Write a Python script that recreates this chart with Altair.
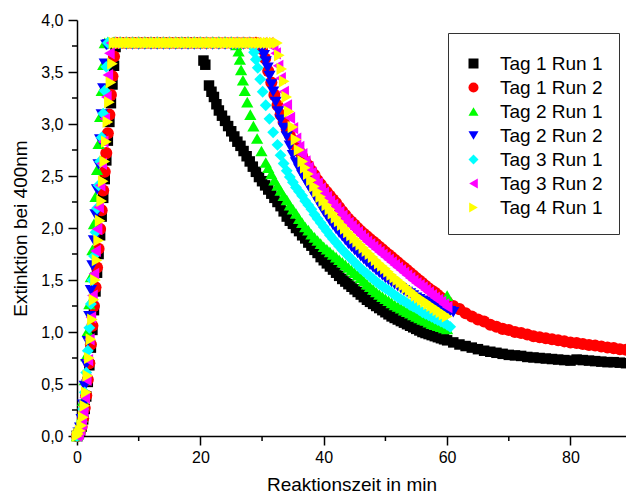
import altair as alt
import pandas as pd

series_names = ["Tag 1 Run 1", "Tag 1 Run 2", "Tag 2 Run 1", "Tag 2 Run 2",
                "Tag 3 Run 1", "Tag 3 Run 2", "Tag 4 Run 1"]
series_colors = ["#000000", "#ff0000", "#00ff00", "#0000ff", "#00ffff", "#ff00ff", "#ffff00"]
series_shapes = ["square", "circle", "triangle-up", "triangle-down", "diamond",
                 "triangle-left", "triangle-right"]
marker_sizes = [110, 145, 150, 150, 140, 150, 150]

x_ticks = [0, 20, 40, 60, 80]
x_minor = [10, 30, 50, 70]
y_ticks = [0, 0.5, 1.0, 1.5, 2.0, 2.5, 3.0, 3.5, 4.0]
y_minor = [0.25, 0.75, 1.25, 1.75, 2.25, 2.75, 3.25, 3.75]

# common sampling times of the late decay (minutes)
t_40_60 = [40.0, 40.5, 41.0, 41.5, 42.0, 42.5, 43.0, 43.5, 44.0, 44.5, 45.0, 45.5, 46.0, 46.5,
           47.0, 47.5, 48.0, 48.5, 49.0, 49.5, 50.0, 50.5, 51.0, 51.5, 52.0, 52.5, 53.0, 53.5,
           54.0, 54.5, 55.0, 55.5, 56.0, 56.5, 57.0, 57.5, 58.0, 58.5, 59.0, 59.5, 60.0]
t_61_89 = [61, 62, 63, 64, 65, 66, 67, 68, 69, 70, 71, 72, 73, 74, 75, 76, 77, 78, 79, 80, 81,
           82, 83, 84, 85, 86, 87, 88, 89]

# ---- Tag 1 Run 1 (black squares)
t_t1r1 = [0, 0.25, 0.5, 0.75, 1, 1.25, 1.5, 1.75, 2, 2.25, 2.5, 2.75, 3, 3.25, 3.5, 3.75, 4, 4.25,
          4.5, 4.75, 5, 5.25, 5.5, 5.75, 6, 6.25, 6.5,
          7, 8, 9, 10, 11, 12, 13, 14, 15, 16, 17, 18, 19, 20,
          20.5, 20.8, 21.4, 21.8, 22.2, 22.6, 23.0, 23.5, 24.0, 24.5, 25.0, 25.5, 26.0, 26.5, 27.0,
          27.5, 28.0, 28.5, 29.0, 29.5, 30.0, 30.5, 31.0, 31.5, 32.0, 32.5, 33.0, 33.5, 34.0, 34.5,
          35.0, 35.5, 36.0, 36.5, 37.0, 37.5, 38.0, 38.5, 39.0, 39.5] + t_40_60 + t_61_89
e_t1r1 = [0, 0.02, 0.04, 0.09, 0.16, 0.26, 0.38, 0.52, 0.68, 0.85, 1.02, 1.21, 1.39, 1.57, 1.75, 1.93,
          2.11, 2.29, 2.47, 2.65, 2.84, 3.02, 3.20, 3.38, 3.56, 3.74, 3.78,
          3.78, 3.78, 3.78, 3.78, 3.78, 3.78, 3.78, 3.78, 3.78, 3.78, 3.78, 3.78, 3.78, 3.78,
          3.61, 3.57, 3.37, 3.31, 3.26, 3.19, 3.13, 3.08, 3.03, 2.98, 2.93, 2.88, 2.83, 2.79, 2.74,
          2.69, 2.64, 2.59, 2.54, 2.49, 2.45, 2.41, 2.37, 2.33, 2.29, 2.25, 2.21, 2.16, 2.11, 2.07,
          2.04, 2.00, 1.97, 1.93, 1.90, 1.86, 1.83, 1.79, 1.76, 1.72,
          1.69, 1.66, 1.63, 1.60, 1.57, 1.54, 1.51, 1.485, 1.46, 1.435, 1.41, 1.385, 1.36, 1.335,
          1.31, 1.29, 1.27, 1.25, 1.23, 1.21, 1.19, 1.17, 1.15, 1.135, 1.12, 1.105, 1.09, 1.075,
          1.06, 1.045, 1.03, 1.015, 1.00, 0.99, 0.98, 0.97, 0.96, 0.95, 0.94, 0.93, 0.92,
          0.90, 0.88, 0.865, 0.85, 0.835, 0.82, 0.81, 0.80, 0.79, 0.78, 0.775, 0.77, 0.76, 0.755,
          0.75, 0.745, 0.74, 0.735, 0.73, 0.725, 0.735, 0.73, 0.725, 0.72, 0.715, 0.71, 0.71,
          0.705, 0.70]

# ---- Tag 1 Run 2 (red circles)
t_t1r2 = [0, 0.25, 0.5, 0.75, 1, 1.25, 1.5, 1.75, 2, 2.25, 2.5, 2.75, 3, 3.25, 3.5, 3.75, 4, 4.25,
          4.5, 4.75, 5, 5.25, 5.5, 5.75, 6, 6.25,
          7, 8, 9, 10, 11, 12, 13, 14, 15, 16, 17, 18, 19, 20, 21, 22, 23, 24, 25, 26, 27, 28, 29,
          30.0, 30.5, 31.0, 31.5, 32.0, 32.5, 33.0, 33.5, 34.0, 34.5, 35.0, 35.5, 36.0, 36.5, 37.0,
          37.5, 38.0, 38.5, 39.0, 39.5] + t_40_60 + t_61_89
e_t1r2 = [0, 0.02, 0.05, 0.09, 0.17, 0.27, 0.39, 0.54, 0.70, 0.88, 1.06, 1.25, 1.43, 1.62, 1.80, 1.99,
          2.17, 2.36, 2.54, 2.72, 2.91, 3.09, 3.28, 3.46, 3.65, 3.78,
          3.78, 3.78, 3.78, 3.78, 3.78, 3.78, 3.78, 3.78, 3.78, 3.78, 3.78, 3.78, 3.78, 3.78, 3.78,
          3.78, 3.78, 3.78, 3.78, 3.78, 3.78, 3.78, 3.78,
          3.72, 3.63, 3.51, 3.40, 3.28, 3.18, 3.09, 3.02, 2.95, 2.89, 2.84, 2.79, 2.74, 2.69, 2.64,
          2.60, 2.55, 2.51, 2.46, 2.42,
          2.38, 2.345, 2.31, 2.275, 2.24, 2.20, 2.16, 2.125, 2.09, 2.06, 2.03, 2.00, 1.97, 1.945,
          1.92, 1.895, 1.87, 1.845, 1.82, 1.795, 1.77, 1.745, 1.72, 1.695, 1.67, 1.645, 1.62, 1.595,
          1.57, 1.545, 1.52, 1.495, 1.47, 1.445, 1.42, 1.40, 1.38, 1.355, 1.33, 1.31, 1.29,
          1.25, 1.22, 1.18, 1.15, 1.12, 1.10, 1.07, 1.05, 1.03, 1.02, 1.00, 0.99, 0.975, 0.96, 0.95,
          0.94, 0.93, 0.92, 0.91, 0.90, 0.895, 0.885, 0.875, 0.87, 0.86, 0.85, 0.845, 0.835, 0.83]

# ---- Tag 2 Run 1 (green up-triangles)
t_t2r1 = [0, 0.25, 0.5, 0.75, 1, 1.25, 1.5, 1.75, 2, 2.25, 2.5, 2.75, 3, 3.25, 3.5, 3.75, 4, 4.25, 4.5,
          5, 6, 7, 8, 9, 10, 11, 12, 13, 14, 15, 16, 17, 18, 19, 20, 21, 22, 23, 24, 25,
          25.8, 26.2, 26.4, 26.6, 26.9, 27.2, 27.6, 28.1, 28.6, 29.2, 29.9, 30.6,
          31.0, 31.5, 32.0, 32.5, 33.0, 33.5, 34.0, 34.5, 35.0, 35.5, 36.0, 36.5, 37.0, 37.5, 38.0,
          38.5, 39.0, 39.5] + t_40_60 + [60.0]
e_t2r1 = [0, 0.03, 0.085, 0.18, 0.34, 0.54, 0.77, 1.01, 1.27, 1.53, 1.79, 2.04, 2.30, 2.56, 2.81,
          3.07, 3.32, 3.57, 3.78,
          3.79, 3.79, 3.79, 3.79, 3.79, 3.79, 3.79, 3.79, 3.79, 3.79, 3.79, 3.79, 3.79, 3.79, 3.79,
          3.79, 3.79, 3.79, 3.79, 3.79, 3.79,
          3.76, 3.70, 3.62, 3.52, 3.42, 3.32, 3.21, 3.09, 2.98, 2.86, 2.74, 2.63,
          2.58, 2.52, 2.46, 2.41, 2.36, 2.31, 2.27, 2.22, 2.18, 2.14, 2.09, 2.05, 2.01, 1.98, 1.94,
          1.91, 1.88, 1.85,
          1.82, 1.795, 1.77, 1.745, 1.72, 1.695, 1.67, 1.645, 1.62, 1.595, 1.57, 1.545, 1.52, 1.49,
          1.46, 1.435, 1.41, 1.385, 1.36, 1.34, 1.32, 1.30, 1.28, 1.26, 1.245, 1.23, 1.21, 1.195,
          1.18, 1.165, 1.15, 1.135, 1.12, 1.11, 1.095, 1.08, 1.07, 1.06, 1.05, 1.04, 1.03,
          1.35]

# ---- Tag 2 Run 2 (blue down-triangles)
t_t2r2 = [0, 0.25, 0.5, 0.75, 1, 1.25, 1.5, 1.75, 2, 2.25, 2.5, 2.75, 3, 3.25, 3.5, 3.75, 4, 4.25,
          4.5, 4.75,
          5, 6, 7, 8, 9, 10, 11, 12, 13, 14, 15, 16, 17, 18, 19, 20, 21, 22, 23, 24, 25, 26, 27, 28, 29,
          30.0, 30.3, 30.6, 30.9, 31.2, 31.5, 31.8, 32.2, 32.6, 33.0, 33.5, 34.0, 34.5, 35.0, 35.5,
          36.0, 36.5, 37.0, 37.5, 38.0, 38.5, 39.0, 39.5] + t_40_60 + [60.5, 61.0]
e_t2r2 = [0, 0.03, 0.08, 0.16, 0.30, 0.48, 0.69, 0.91, 1.15, 1.40, 1.64, 1.88, 2.13, 2.37, 2.61, 2.85,
          3.09, 3.34, 3.58, 3.76,
          3.765, 3.765, 3.765, 3.765, 3.765, 3.765, 3.765, 3.765, 3.765, 3.765, 3.765, 3.765, 3.765,
          3.765, 3.765, 3.765, 3.765, 3.765, 3.765, 3.765, 3.765, 3.765, 3.765, 3.765, 3.765,
          3.72, 3.66, 3.60, 3.54, 3.46, 3.38, 3.31, 3.21, 3.12, 3.04, 2.96, 2.88, 2.79, 2.70, 2.63,
          2.57, 2.51, 2.46, 2.41, 2.36, 2.31, 2.26, 2.21,
          2.16, 2.115, 2.07, 2.03, 1.99, 1.955, 1.92, 1.885, 1.85, 1.82, 1.79, 1.76, 1.73, 1.70,
          1.67, 1.645, 1.62, 1.595, 1.57, 1.545, 1.52, 1.50, 1.48, 1.46, 1.44, 1.42, 1.40, 1.385,
          1.37, 1.35, 1.33, 1.315, 1.30, 1.29, 1.28, 1.265, 1.25, 1.24, 1.23, 1.22, 1.21,
          1.20, 1.19]

# ---- Tag 3 Run 1 (cyan diamonds)
t_t3r1 = [0, 0.25, 0.5, 0.75, 1, 1.25, 1.5, 1.75, 2, 2.25, 2.5, 2.75, 3, 3.25, 3.5, 3.75, 4, 4.25,
          4.5, 4.75, 5,
          6, 7, 8, 9, 10, 11, 12, 13, 14, 15, 16, 17, 18, 19, 20, 21, 22, 23, 24, 25, 26, 27, 28,
          28.5, 28.7, 29.0, 29.3, 29.7, 30.1, 30.6, 31.2, 31.8, 32.5, 33.0, 33.5, 34.0, 34.5, 35.0,
          35.5, 36.0, 36.5, 37.0, 37.5, 38.0, 38.5, 39.0, 39.5] + t_40_60 + [60.5]
e_t3r1 = [0, 0.02, 0.07, 0.14, 0.26, 0.42, 0.61, 0.82, 1.04, 1.27, 1.50, 1.73, 1.96, 2.19, 2.41, 2.64,
          2.87, 3.10, 3.32, 3.55, 3.78,
          3.78, 3.78, 3.78, 3.78, 3.78, 3.78, 3.78, 3.78, 3.78, 3.78, 3.78, 3.78, 3.78, 3.78, 3.78,
          3.78, 3.78, 3.78, 3.78, 3.78, 3.78, 3.78, 3.78,
          3.74, 3.69, 3.62, 3.54, 3.43, 3.31, 3.18, 3.05, 2.92, 2.80, 2.70, 2.62, 2.55, 2.49, 2.44,
          2.39, 2.35, 2.31, 2.26, 2.22, 2.18, 2.13, 2.09, 2.05,
          2.01, 1.97, 1.93, 1.895, 1.86, 1.825, 1.79, 1.76, 1.73, 1.70, 1.67, 1.64, 1.61, 1.585,
          1.56, 1.535, 1.51, 1.485, 1.46, 1.44, 1.42, 1.40, 1.38, 1.355, 1.335, 1.315, 1.30, 1.28,
          1.26, 1.245, 1.23, 1.21, 1.19, 1.175, 1.16, 1.145, 1.13, 1.115, 1.10, 1.085, 1.07,
          1.05]

# ---- Tag 3 Run 2 (magenta left-triangles)
t_t3r2 = [0, 0.25, 0.5, 0.75, 1, 1.25, 1.5, 1.75, 2, 2.25, 2.5, 2.75, 3, 3.25, 3.5, 3.75, 4, 4.25,
          4.5, 4.75, 5, 5.25, 5.5,
          6, 7, 8, 9, 10, 11, 12, 13, 14, 15, 16, 17, 18, 19, 20, 21, 22, 23, 24, 25, 26, 27, 28, 29,
          30, 31,
          31.8, 32.2, 32.6, 33.0, 33.5, 34.0, 34.5, 35.0, 35.5, 36.0, 36.5, 37.0, 37.5, 38.0, 38.5,
          39.0, 39.5] + t_40_60
e_t3r2 = [0, 0.02, 0.06, 0.12, 0.23, 0.37, 0.54, 0.73, 0.93, 1.14, 1.35, 1.56, 1.78, 1.99, 2.20, 2.41,
          2.62, 2.83, 3.05, 3.26, 3.47, 3.68, 3.78,
          3.78, 3.78, 3.78, 3.78, 3.78, 3.78, 3.78, 3.78, 3.78, 3.78, 3.78, 3.78, 3.78, 3.78, 3.78,
          3.78, 3.78, 3.78, 3.78, 3.78, 3.78, 3.78, 3.78, 3.78, 3.78, 3.78,
          3.74, 3.68, 3.56, 3.44, 3.31, 3.18, 3.06, 2.96, 2.86, 2.78, 2.71, 2.64, 2.58, 2.53, 2.48,
          2.43, 2.38,
          2.34, 2.30, 2.26, 2.225, 2.19, 2.155, 2.12, 2.085, 2.05, 2.02, 1.99, 1.96, 1.93, 1.90,
          1.87, 1.845, 1.82, 1.795, 1.77, 1.745, 1.72, 1.695, 1.67, 1.645, 1.62, 1.595, 1.57, 1.545,
          1.52, 1.495, 1.47, 1.45, 1.43, 1.405, 1.38, 1.355, 1.33, 1.31, 1.29, 1.265, 1.24]

# ---- Tag 4 Run 1 (yellow right-triangles)
t_t4r1 = [0, 0.25, 0.5, 0.75, 1, 1.25, 1.5, 1.75, 2, 2.25, 2.5, 2.75, 3, 3.25, 3.5, 3.75, 4, 4.25,
          4.5, 4.75, 5, 5.25, 5.5, 5.75, 6.0,
          6.5, 7.0, 7.5, 8.0, 8.5, 9.0, 9.5, 10.0, 10.5, 11.0, 11.5, 12.0, 12.5, 13.0, 13.5, 14.0,
          14.5, 15.0, 15.5, 16.0, 16.5, 17.0, 17.5, 18.0, 18.5, 19.0, 19.5, 20.0, 20.5, 21.0, 21.5,
          22.0, 22.5, 23.0, 23.5, 24.0, 24.5, 25.0, 25.5, 26.0, 26.5, 27.0, 27.5, 28.0, 28.5, 29.0,
          29.5, 30.0, 30.5, 31.0, 31.5, 32.0, 32.5,
          32.8, 33.2, 33.6, 34.0, 34.4, 35.0, 35.5, 36.0, 36.6, 37.0, 37.5, 38.0, 38.5, 39.0,
          39.5] + t_40_60
e_t4r1 = [0, 0.02, 0.05, 0.10, 0.18, 0.29, 0.42, 0.58, 0.75, 0.93, 1.12, 1.31, 1.50, 1.69, 1.88, 2.07,
          2.26, 2.45, 2.64, 2.83, 3.02, 3.21, 3.40, 3.58, 3.78,
          3.78, 3.78, 3.78, 3.78, 3.78, 3.78, 3.78, 3.78, 3.78, 3.78, 3.78, 3.78, 3.78, 3.78, 3.78,
          3.78, 3.78, 3.78, 3.78, 3.78, 3.78, 3.78, 3.78, 3.78, 3.78, 3.78, 3.78, 3.78, 3.78, 3.78,
          3.78, 3.78, 3.78, 3.78, 3.78, 3.78, 3.78, 3.78, 3.78, 3.78, 3.78, 3.78, 3.78, 3.78, 3.78,
          3.78, 3.78, 3.78, 3.78, 3.78, 3.78, 3.78, 3.78,
          3.66, 3.53, 3.41, 3.26, 3.12, 2.97, 2.85, 2.75, 2.64, 2.58, 2.52, 2.46, 2.40, 2.35, 2.30,
          2.26, 2.22, 2.18, 2.14, 2.10, 2.065, 2.03, 1.995, 1.96, 1.93, 1.90, 1.87, 1.84, 1.81,
          1.78, 1.75, 1.72, 1.69, 1.66, 1.635, 1.61, 1.58, 1.55, 1.525, 1.50, 1.475, 1.45, 1.425,
          1.40, 1.375, 1.35, 1.33, 1.31, 1.29, 1.27, 1.25, 1.23, 1.21, 1.19, 1.17, 1.15]

series_t = [t_t1r1, t_t1r2, t_t2r1, t_t2r2, t_t3r1, t_t3r2, t_t4r1]
series_e = [e_t1r1, e_t1r2, e_t2r1, e_t2r2, e_t3r1, e_t3r2, e_t4r1]

rows = []
for name, msize, ts, es in zip(series_names, marker_sizes, series_t, series_e):
    assert len(ts) == len(es), (name, len(ts), len(es))
    for t, e in zip(ts, es):
        rows.append({"series": name, "t": t, "e": e, "msize": msize})
df = pd.DataFrame(rows)

FONT = "Liberation Sans"
x_scale = alt.Scale(domain=[0, 89], nice=False, zero=False)
y_scale = alt.Scale(domain=[0, 4], nice=False, zero=False)

axis_common = dict(grid=False, domainColor="black", domainWidth=1.5, tickColor="black",
                   tickWidth=1.5, tickSize=9, labelFont=FONT, labelFontSize=16,
                   labelColor="black", titleFont=FONT, titleFontSize=19,
                   titleFontWeight="normal", titleColor="black", labelFlush=False,
                   labelOverlap=False)

x_axis = alt.Axis(values=x_ticks, title="Reaktionszeit in min", labelPadding=4,
                  titlePadding=10, **axis_common)
y_axis = alt.Axis(values=y_ticks, title="Extinktion bei 400nm", labelPadding=5,
                  titlePadding=10,
                  labelExpr="replace(format(datum.value, '.1f'), '.', ',')",
                  **axis_common)

legend = alt.Legend(title=" ", titleFontSize=5, titlePadding=0, orient="none",
                    legendX=371, legendY=13, direction="vertical",
                    fillColor="white", strokeColor="#333333", padding=16,
                    labelFont=FONT, labelFontSize=19, labelColor="black", labelOffset=17,
                    symbolSize=100, symbolStrokeWidth=0, rowPadding=4)

points = alt.Chart(df).mark_point(filled=True, opacity=1, strokeWidth=0).encode(
    x=alt.X("t:Q", scale=x_scale, axis=x_axis),
    y=alt.Y("e:Q", scale=y_scale, axis=y_axis),
    color=alt.Color("series:N", scale=alt.Scale(domain=series_names, range=series_colors),
                    legend=legend),
    shape=alt.Shape("series:N", scale=alt.Scale(domain=series_names, range=series_shapes),
                    legend=legend),
    size=alt.Size("msize:Q", scale=None, legend=None),
)

yminor = alt.Chart(pd.DataFrame({"v": y_minor})).mark_rule(color="black", strokeWidth=1.5).encode(
    y=alt.Y("v:Q", scale=y_scale, axis=y_axis), x=alt.value(-5), x2=alt.value(0))
xminor = alt.Chart(pd.DataFrame({"v": x_minor})).mark_rule(color="black", strokeWidth=1.5).encode(
    x=alt.X("v:Q", scale=x_scale, axis=x_axis), y=alt.value(416), y2=alt.value(421))

chart = alt.layer(points, yminor, xminor).properties(
    width=549, height=416,
    padding={"left": 77, "top": 20, "right": 0, "bottom": 58},
    autosize=alt.AutoSizeParams(type="none"),
    background="white",
).configure_view(stroke=None).configure_legend(strokeWidth=1)

chart.save("out.html", embed_options={"renderer": "svg", "actions": False})
